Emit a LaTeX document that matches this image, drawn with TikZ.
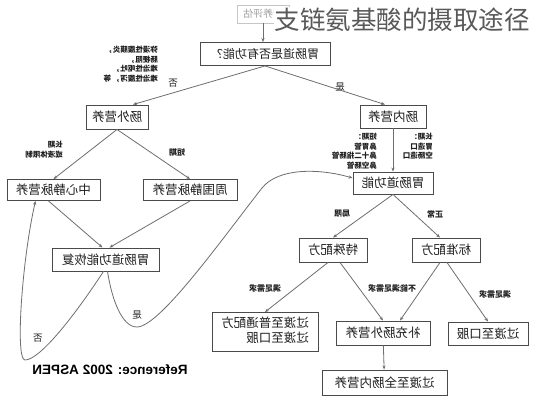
\documentclass[tikz,border=0pt]{standalone}
\usepackage{fontspec}
\setmainfont{Noto Sans CJK SC}
\newfontfamily\reffont{Liberation Sans}
\usepackage{graphicx}
\usetikzlibrary{arrows.meta, positioning}
\definecolor{boxgray}{HTML}{4A4A4A}
\definecolor{linegray}{HTML}{6E6E6E}
\definecolor{txtgray}{HTML}{1E1E1E}
\newcommand{\mirtext}[1]{\scalebox{-1}[1]{#1}}
\tikzset{
  box/.style={draw=boxgray, line width=0.9pt, inner sep=2pt, text=txtgray, font=\fontsize{12.5}{14}\selectfont},
  note/.style={text=txtgray, inner sep=0pt, font=\bfseries\fontsize{7.5}{9.5}\selectfont},
  lbl/.style={text=txtgray, inner sep=0pt, font=\bfseries\fontsize{8}{9}\selectfont},
  yn/.style={text=txtgray, inner sep=0pt, font=\fontsize{9.5}{10}\selectfont},
  conn/.style={draw=linegray, line width=0.8pt, -{Stealth[length=4pt,width=3.2pt]}},
}

\begin{document}
\begin{tikzpicture}[x=1pt,y=-1pt]
	\useasboundingbox (0,0) rectangle (533,400);
	\fill[white] (0,0) rectangle (533,400);

	\node[box, draw=gray!45, text=gray!75, line width=0.7pt, minimum width=52pt, minimum height=18pt, font=\fontsize{10}{12}\selectfont] (assess) at (263,14) {\mirtext{营养评估}};
	\node[fill=white, inner sep=1pt, text=black!65, font=\fontsize{25.5}{28}\selectfont] (title) at (402,20) {支链氨基酸的摄取途径};

	\node[box, minimum width=130pt, minimum height=23pt, font=\fontsize{12}{14}\selectfont] (q1) at (265,54) {\mirtext{胃肠道是否有功能？}};
	\node[box, minimum width=62pt, minimum height=24pt] (pn) at (117,117) {\mirtext{肠外营养}};
	\node[box, minimum width=66pt, minimum height=23pt] (en) at (393,116.5) {\mirtext{肠内营养}};
	\node[box, minimum width=93pt, minimum height=21pt] (cvn) at (53.5,190) {\mirtext{中心静脉营养}};
	\node[box, minimum width=94pt, minimum height=21pt] (ppn) at (190,190) {\mirtext{周围静脉营养}};
	\node[box, minimum width=80pt, minimum height=22pt] (gif) at (393,183) {\mirtext{胃肠道功能}};
	\node[box, minimum width=107pt, minimum height=23pt] (rec) at (105.5,259.5) {\mirtext{胃肠道功能恢复}};
	\node[box, minimum width=68pt, minimum height=24pt] (spec) at (333,250) {\mirtext{特殊配方}};
	\node[box, minimum width=68pt, minimum height=24pt] (std) at (446,250) {\mirtext{标准配方}};
	\node[box, minimum width=106pt, minimum height=39pt] (tr1) at (265,332) {\mirtext{\begin{tabular}{@{}l@{}}过渡至普通配方\\过渡至口服\end{tabular}}};
	\node[box, minimum width=94pt, minimum height=24pt] (sup) at (383,333) {\mirtext{补充肠外营养}};
	\node[box, minimum width=80pt, minimum height=23pt] (oral) at (488,333.5) {\mirtext{过渡至口服}};
	\node[box, minimum width=125pt, minimum height=25pt] (ten) at (384.5,382.5) {\mirtext{过渡至全肠内营养}};

	\node[note, anchor=north east] (contra) at (158,46) {\mirtext{\begin{tabular}{@{}l@{}}弥漫性腹膜炎，\\肠梗阻，\\难治性呕吐，\\难治性腹泻，\ 等\end{tabular}}};
	\node[note, anchor=north east] (longpn) at (63,141) {\mirtext{\begin{tabular}{@{}l@{}}长期\\或液体限制\end{tabular}}};
	\node[lbl] (shortpn) at (177,152) {\mirtext{短期}};
	\node[note, anchor=north east] (shorten) at (377,133) {\mirtext{\begin{tabular}{@{}l@{}}短期：\\鼻胃管\\鼻十二指肠管\\鼻空肠管\end{tabular}}};
	\node[note, anchor=north east] (longen) at (433,133) {\mirtext{\begin{tabular}{@{}l@{}}长期：\\胃造口\\空肠造口\end{tabular}}};
	\node[lbl] (limited) at (342,214) {\mirtext{局限}};
	\node[lbl] (normal) at (435,214) {\mirtext{正常}};
	\node[lbl] (meet1) at (265,288) {\mirtext{满足需求}};
	\node[lbl] (notmeet) at (392,288) {\mirtext{不能满足需求}};
	\node[lbl] (meet2) at (495,294) {\mirtext{满足需求}};
	\node[yn] (no1) at (173,83) {\mirtext{否}};
	\node[yn] (yes1) at (340,87) {\mirtext{是}};
	\node[yn] (yes2) at (137,315) {\mirtext{是}};
	\node[yn] (no2) at (38,338) {\mirtext{否}};
	\node[text=black, inner sep=0pt, font=\reffont\bfseries\fontsize{13.5}{15}\selectfont] (ref) at (110,370) {\mirtext{Reference: 2002 ASPEN}};

	\draw[conn] (assess.south) -- (assess.south |- q1.north);
	\draw[conn] (q1.south) -- ([xshift=16pt]pn.north);
	\draw[conn] (q1.south) -- ([xshift=-8pt]en.north);
	\draw[conn] (pn.south) -- (cvn.north);
	\draw[conn] (pn.south) -- (ppn.north);
	\draw[conn] (en) -- (gif);
	\draw[conn] ([xshift=-5pt]cvn.south) -- ([xshift=-3pt]rec.north);
	\draw[conn] (ppn.south) -- ([xshift=4pt]rec.north);
	\draw[conn] (gif.south) -- (spec.north);
	\draw[conn] (gif.south) -- ([xshift=-6pt]std.north);
	\draw[conn] ([xshift=-5pt]spec.south) -- (tr1.north);
	\draw[conn] ([xshift=7pt]spec.south) -- (sup.north);
	\draw[conn] ([xshift=-6pt]std.south) -- ([xshift=17pt]sup.north);
	\draw[conn] ([xshift=1pt]std.south) -- (oral.north);
	\draw[conn] (sup) -- (ten);

	\draw[conn] ([xshift=2pt]rec.south) .. controls (112,300) and (122,327) .. (137,327)
		.. controls (160,327) and (225,235) .. (262,188)
		.. controls (278,168) and (318,168) .. ([yshift=5pt]gif.west);
	\draw[conn] ([xshift=-2pt]rec.south) .. controls (75,315) and (40,360) .. (25,360)
		.. controls (15,360) and (22,260) .. ([xshift=-18pt]cvn.south);
\end{tikzpicture}
\end{document}
